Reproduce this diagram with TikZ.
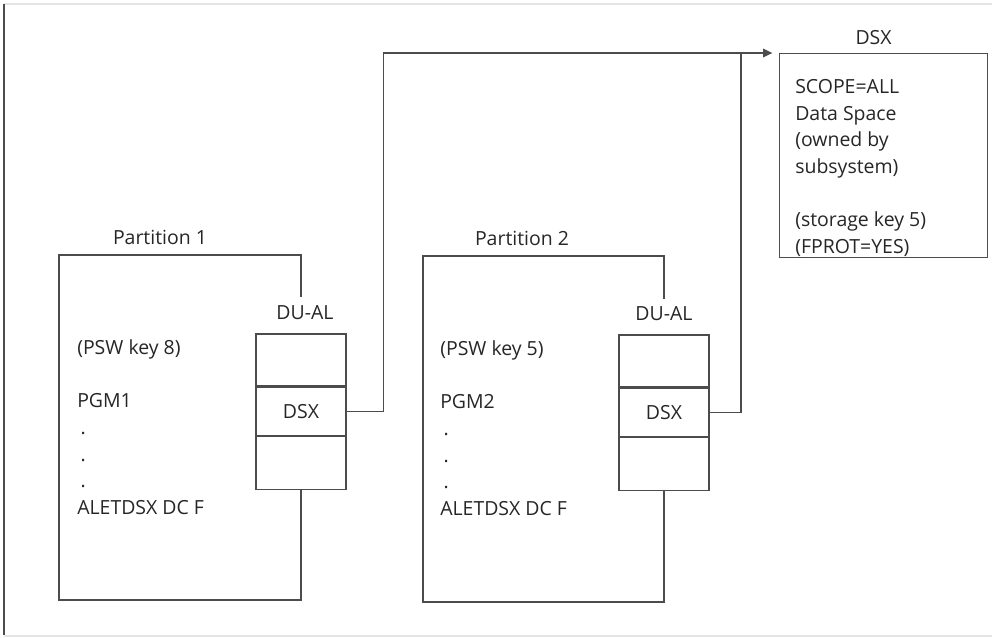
\documentclass[tikz,border=0pt]{standalone}
\usepackage{fontspec}
\setmainfont{Open Sans}
\usetikzlibrary{arrows.meta,positioning}

\begin{document}
\begin{tikzpicture}[x=0.75pt,y=-0.75pt,
  txt/.style={font=\fontsize{14.6pt}{20pt}\selectfont,text=black!85,inner sep=0pt,align=left},
  cell/.style={draw=black!70,line width=0.9pt,minimum width=67.5pt,inner sep=0pt,font=\fontsize{14.6pt}{20pt}\selectfont,text=black!85},
  ln/.style={draw=black!70,line width=0.9pt},
  a/.style={ln,-{Triangle[length=7pt,width=6.5pt]}}]
  \useasboundingbox (0,0) rectangle (992,637);
  % frame round the figure
  \draw[black!10,line width=0.8pt] (4,4) -- (992,4);
  \draw[black!10,line width=0.8pt] (4,636) -- (992,636);
  \draw[black!70,line width=1.2pt] (4,4) -- (4,635);
  % Partition 1 with its DU-AL
  \node[cell,minimum height=39pt] (p1top) at (301,360) {};
  \node[cell,minimum height=36pt,below=0pt of p1top] (p1dsx) {DSX};
  \node[cell,minimum height=39.75pt,below=0pt of p1dsx] (p1bot) {};
  \node[txt,above=10pt of p1top,xshift=3pt] (du1) {DU-AL};
  \coordinate (p1nw) at (59,255);
  \coordinate (p1sw) at (59,600);
  \draw[ln] (p1bot.south) |- (p1sw) -- (p1nw) -| ([yshift=27pt]p1top.north);
  \node[txt] (lab1) at (160,237) {Partition 1};
  \node[txt,anchor=base west] (pgm1) at (77,514.5) {(PSW key 8)\\[20pt]PGM1\\\,.\\\,.\\\,.\\ALETDSX DC F};
  % Partition 2 with its DU-AL
  \node[cell,minimum height=39pt] (p2top) at (664,361) {};
  \node[cell,minimum height=36pt,below=0pt of p2top] (p2dsx) {DSX};
  \node[cell,minimum height=39.75pt,below=0pt of p2dsx] (p2bot) {};
  \node[txt,above=10pt of p2top] (du2) {DU-AL};
  \coordinate (p2nw) at (423,256);
  \coordinate (p2sw) at (423,602);
  \draw[ln] (p2bot.south) |- (p2sw) -- (p2nw) -| ([yshift=26.25pt]p2top.north);
  \node[txt] (lab2) at (522,238) {Partition 2};
  \node[txt,anchor=base west] (pgm2) at (440,515.5) {(PSW key 5)\\[20pt]PGM2\\\,.\\\,.\\\,.\\ALETDSX DC F};
  % the data space
  \node[ln,anchor=north west,minimum width=156pt,minimum height=153pt,inner sep=0pt] (dsx) at (779,53) {};
  \node[txt,above=6pt of dsx.north,xshift=-7.5pt] (dsxlab) {DSX};
  \node[txt,anchor=base west] (dsxtxt) at (795,253.5) {SCOPE=ALL\\Data Space\\(owned by\\subsystem)\\[20pt](storage key 5)\\(FPROT=YES)};
  % both DU-AL entries point at it
  \coordinate (jn) at (741,53);
  \draw[a] (p1dsx.east) -- ++(37,0) |- ([xshift=-5pt]dsx.north west);
  \draw[ln] (p2dsx.east) -| (jn);
\end{tikzpicture}
\end{document}
